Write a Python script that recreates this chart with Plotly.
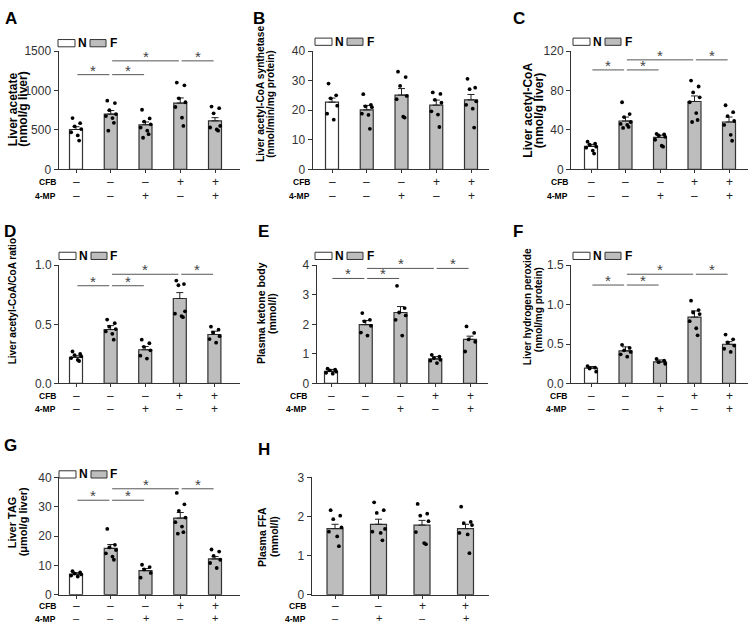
import plotly.graph_objects as go

W, H = 749, 632
FONT = "Liberation Sans, Arial, sans-serif"
GRAY = "#bdbdbd"
DARK = "#333333"

# ---------------- data ----------------
CFB_5 = ["–", "–", "–", "+", "+"]
MP_5 = ["–", "–", "+", "–", "+"]
DIET_5 = ["N", "F", "F", "F", "F"]
CFB_4 = ["–", "–", "+", "+"]
MP_4 = ["–", "+", "–", "+"]
DIET_4 = ["F", "F", "F", "F"]

acetate_mean = [505, 700, 565, 840, 615]
acetate_sem = [35, 45, 35, 65, 40]
acetate_pts = [[650, 585, 545, 510, 470, 430, 365],
               [870, 840, 750, 700, 675, 650, 590, 490],
               [755, 645, 605, 570, 530, 490, 445, 400],
               [1100, 1065, 900, 850, 790, 655, 550],
               [795, 775, 710, 550, 530, 505, 490]]

acs_mean = [22.7, 20.1, 25.1, 21.7, 23.5]
acs_sem = [1.4, 1.5, 2.2, 1.7, 1.8]
acs_pts = [[29, 25, 24, 21.5, 18.8, 16.8],
           [25.4, 21.8, 21.3, 21.0, 18.8, 18.4, 13.7],
           [33, 31.2, 28.2, 24.8, 23.7, 17.8, 17.5],
           [26, 25.5, 23.5, 22.5, 19.6, 18.5, 14.3],
           [30.6, 27.6, 27.1, 23, 21.8, 20.5, 14.1]]

acoa_mean = [23.3, 49, 32.3, 68.8, 48]
acoa_sem = [2.0, 4.0, 2.3, 5.6, 5.0]
acoa_pts = [[28, 26, 25, 23, 22, 19, 16],
            [68, 56, 53, 48, 46, 45, 43, 42],
            [36, 35.5, 34.5, 33, 30, 24, 23],
            [90, 84, 78, 73, 68, 57, 50, 48],
            [65, 58, 54, 49, 45, 35, 29]]

ratio_mean = [0.221, 0.456, 0.285, 0.718, 0.414]
ratio_sem = [0.014, 0.033, 0.027, 0.05, 0.028]
ratio_pts = [[0.27, 0.25, 0.24, 0.23, 0.215, 0.2, 0.19],
             [0.54, 0.51, 0.48, 0.46, 0.44, 0.42, 0.37],
             [0.37, 0.34, 0.31, 0.28, 0.235, 0.21],
             [0.87, 0.84, 0.83, 0.61, 0.59, 0.57, 0.56],
             [0.48, 0.455, 0.43, 0.40, 0.375, 0.345]]

ketone_mean = [0.41, 1.99, 2.40, 0.83, 1.49]
ketone_sem = [0.065, 0.14, 0.2, 0.076, 0.11]
ketone_pts = [[0.5, 0.47, 0.44, 0.4, 0.36, 0.33],
              [2.38, 2.15, 2.1, 1.95, 1.72, 1.62],
              [3.3, 2.55, 2.4, 2.3, 2.15, 1.62],
              [0.97, 0.91, 0.86, 0.8, 0.77, 0.69],
              [1.93, 1.71, 1.49, 1.41, 1.08]]

h2o2_mean = [0.195, 0.414, 0.273, 0.841, 0.497]
h2o2_sem = [0.02, 0.05, 0.025, 0.079, 0.033]
h2o2_pts = [[0.22, 0.2, 0.19, 0.15],
            [0.49, 0.45, 0.42, 0.40, 0.37, 0.34],
            [0.31, 0.29, 0.27, 0.25],
            [1.05, 0.93, 0.9, 0.88, 0.79, 0.7, 0.61],
            [0.62, 0.56, 0.52, 0.48, 0.44, 0.40]]

tag_mean = [7.0, 15.8, 8.2, 26.1, 12.2]
tag_sem = [0.5, 1.3, 0.7, 1.9, 0.8]
tag_pts = [[8, 7.6, 7.2, 6.9, 6.5, 6.2],
           [22.4, 17, 16.1, 15.2, 14.1, 13, 11.9],
           [10.2, 9.4, 8.6, 7.4, 5.8],
           [34.7, 30.8, 28.6, 26.3, 24.7, 23.2, 21.3, 20.8],
           [15.4, 14.7, 13.2, 11.9, 10.8, 9.1]]

ffa_mean = [1.69, 1.80, 1.78, 1.69]
ffa_sem = [0.11, 0.13, 0.12, 0.11]
ffa_pts = [[2.16, 2.02, 1.93, 1.72, 1.61, 1.49, 1.24],
           [2.36, 2.16, 2.09, 1.68, 1.61, 1.58, 1.39],
           [2.32, 2.07, 2.02, 1.88, 1.6, 1.32, 1.29],
           [2.25, 1.86, 1.83, 1.78, 1.58, 1.54, 1.06]]

# tick labels
ticks_A = [0, 500, 1000, 1500]
ticks_B = [0, 10, 20, 30, 40]
ticks_C = [0, 40, 80, 120]
ticks_D = [0, 0.5, 1.0]
ticks_E = [0, 1, 2, 3, 4]
ticks_F = [0, 0.5, 1.0, 1.5]
ticks_G = [0, 10, 20, 30, 40]
ticks_H = [0, 1, 2, 3]

# significance brackets: (from, to, level) ; level 0 = low, 1 = high
SIG_5 = [(0, 1, 0), (1, 2, 0), (1, 3, 1), (3, 4, 1)]

# ---------------- layout spec (pixels of the picture) ----------------
panels = [
    dict(letter="A", mean=acetate_mean, sem=acetate_sem, pts=acetate_pts, ticks=ticks_A,
         ticktext=None, cfb=CFB_5, mp=MP_5, diet=DIET_5,
         L=58.5, R=240, c0=76, s=34.75, bw=13, yb=166, yt=45, lx=3, ly=12,
         titles=[(12.5, 105, "Liver acetate"), (23, 105, "(nmol/g liver)")], tf=12,
         leg=(58, 37), rowx=58, rows=(179, 193), sig=SIG_5, brk=(1200, 1375)),
    dict(letter="B", mean=acs_mean, sem=acs_sem, pts=acs_pts, ticks=ticks_B,
         ticktext=None, cfb=CFB_5, mp=MP_5, diet=DIET_5,
         L=312.5, R=489, c0=332, s=34.75, bw=13, yb=166, yt=45, lx=251, ly=12,
         titles=[(260, 89, "Liver acetyl-CoA synthetase"), (271, 99, "(nmol/min/mg protein)")], tf=10.2,
         leg=(315, 35.5), rowx=312, rows=(179, 193), sig=[], brk=None),
    dict(letter="C", mean=acoa_mean, sem=acoa_sem, pts=acoa_pts, ticks=ticks_C,
         ticktext=None, cfb=CFB_5, mp=MP_5, diet=DIET_5,
         L=571, R=748, c0=591, s=34.5, bw=13, yb=166, yt=45, lx=511, ly=12,
         titles=[(528, 106, "Liver acetyl-CoA"), (538.5, 106, "(nmol/g liver)")], tf=12,
         leg=(573, 35.5), rowx=570, rows=(179, 193), sig=SIG_5, brk=(100.8, 111)),
    dict(letter="D", mean=ratio_mean, sem=ratio_sem, pts=ratio_pts, ticks=ticks_D,
         ticktext=["0.0", "0.5", "1.0"], cfb=CFB_5, mp=MP_5, diet=DIET_5,
         L=59, R=240, c0=76, s=34.6, bw=13, yb=385, yt=264, lx=2, ly=230,
         titles=[(12, 301, "Liver acetyl-CoA/CoA ratio")], tf=10,
         leg=(59, 254.5), rowx=58, rows=(398, 411), sig=SIG_5, brk=(0.826, 0.923)),
    dict(letter="E", mean=ketone_mean, sem=ketone_sem, pts=ketone_pts, ticks=ticks_E,
         ticktext=None, cfb=CFB_5, mp=MP_5, diet=DIET_5,
         L=316.7, R=488, c0=331, s=34.75, bw=13, yb=385, yt=264, lx=256, ly=229.5,
         titles=[(261, 313, "Plasma ketone body"), (272, 314, "(mmol/l)")], tf=10.5,
         leg=(315, 254.5), rowx=309, rows=(398, 411), sig=SIG_5, brk=(3.55, 3.89)),
    dict(letter="F", mean=h2o2_mean, sem=h2o2_sem, pts=h2o2_pts, ticks=ticks_F,
         ticktext=["0.0", "0.5", "1.0", "1.5"], cfb=CFB_5, mp=MP_5, diet=DIET_5,
         L=571, R=748, c0=591, s=34.5, bw=13, yb=385, yt=264, lx=511, ly=229.5,
         titles=[(527, 307, "Liver hydrogen peroxide"), (538, 310, "(nmol/mg protein)")], tf=10,
         leg=(573, 254.5), rowx=569, rows=(398, 411), sig=SIG_5, brk=(1.248, 1.385)),
    dict(letter="G", mean=tag_mean, sem=tag_sem, pts=tag_pts, ticks=ticks_G,
         ticktext=None, cfb=CFB_5, mp=MP_5, diet=DIET_5,
         L=59, R=240, c0=76, s=34.75, bw=13, yb=601, yt=481, lx=2, ly=448,
         titles=[(12, 527, "Liver TAG"), (23, 527, "(μmol/g liver)")], tf=11,
         leg=(59, 478), rowx=58, rows=(613, 626), sig=SIG_5, brk=(32.2, 36.1)),
    dict(letter="H", mean=ffa_mean, sem=ffa_sem, pts=ffa_pts, ticks=ticks_H,
         ticktext=None, cfb=CFB_4, mp=MP_4, diet=DIET_4,
         L=311.7, R=489, c0=335, s=43.5, bw=16, yb=601, yt=481, lx=256, ly=452.5,
         titles=[(262, 542, "Plasma FFA"), (274, 542, "(mmol/l)")], tf=10.5,
         leg=None, rowx=308, rows=(613, 626), sig=[], brk=None),
]

JITTER = [-0.10, 0.12, -0.04, 0.15, -0.14, 0.05, 0.09, -0.07]


def px(x):
    return x / W


def py(y):
    return 1 - y / H


fig = go.Figure()
annotations = []
shapes = []
layout_axes = {}

for k, p in enumerate(panels):
    n = k + 1
    xa = "x" if n == 1 else f"x{n}"
    ya = "y" if n == 1 else f"y{n}"
    xkey = "xaxis" if n == 1 else f"xaxis{n}"
    ykey = "yaxis" if n == 1 else f"yaxis{n}"
    cats = list(range(len(p["mean"])))
    ymax = p["ticks"][-1]

    fills = ["white" if d == "N" else GRAY for d in p["diet"]]
    fig.add_trace(go.Bar(
        x=cats, y=p["mean"], width=p["bw"] / p["s"], xaxis=xa, yaxis=ya,
        marker=dict(color=fills, line=dict(color=DARK, width=1.2)),
        error_y=dict(type="data", symmetric=False, array=p["sem"],
                     arrayminus=[0] * len(cats), color="#222222", thickness=1, width=3.5),
        showlegend=False, hoverinfo="skip"))

    xs, ys = [], []
    for i, grp in enumerate(p["pts"]):
        for j, v in enumerate(grp):
            xs.append(i + JITTER[j % len(JITTER)])
            ys.append(v)
    fig.add_trace(go.Scatter(
        x=xs, y=ys, mode="markers", xaxis=xa, yaxis=ya,
        marker=dict(color="black", size=3.8), showlegend=False, hoverinfo="skip"))

    layout_axes[xkey] = dict(
        domain=[px(p["L"]), min(1, px(p["R"]))], anchor=ya,
        range=[(p["L"] - p["c0"]) / p["s"], (p["R"] - p["c0"]) / p["s"]],
        showgrid=False, zeroline=False, showline=True, linecolor=DARK, linewidth=1,
        ticks="outside", ticklen=3, tickcolor=DARK, tickvals=cats, showticklabels=False,
        fixedrange=True)
    layout_axes[ykey] = dict(
        domain=[py(p["yb"]), py(p["yt"])], anchor=xa, range=[0, ymax],
        showgrid=False, zeroline=False, showline=True, linecolor=DARK, linewidth=1,
        ticks="outside", ticklen=4, tickcolor=DARK, tickvals=p["ticks"],
        ticktext=p["ticktext"] if p["ticktext"] else [str(t) for t in p["ticks"]],
        tickfont=dict(size=12, color=DARK, family=FONT), fixedrange=True)

    # panel letter
    annotations.append(dict(text=f"<b>{p['letter']}</b>", x=px(p["lx"]), y=py(p["ly"]),
                            xref="paper", yref="paper", xanchor="left", yanchor="middle",
                            showarrow=False, font=dict(size=17, color="black", family=FONT)))
    # y titles
    for (tx, ty, t) in p["titles"]:
        annotations.append(dict(text=f"<b>{t}</b>", x=px(tx), y=py(ty), xref="paper", yref="paper",
                                xanchor="center", yanchor="middle", textangle=-90, showarrow=False,
                                font=dict(size=p["tf"], color="black", family=FONT)))
    # legend
    if p["leg"]:
        lx0, ly0 = p["leg"]
        for (a, b, col) in [(0, 17, "white"), (32, 48, GRAY)]:
            shapes.append(dict(type="rect", xref="paper", yref="paper",
                               x0=px(lx0 + a), x1=px(lx0 + b), y0=py(ly0 + 3.7), y1=py(ly0 - 3.7),
                               line=dict(color=DARK, width=1), fillcolor=col))
        for (a, t) in [(17.5, "N"), (49.5, "F")]:
            annotations.append(dict(text=f"<b>{t}</b>", x=px(lx0 + a), y=py(ly0), xref="paper",
                                    yref="paper", xanchor="left", yanchor="middle", showarrow=False,
                                    font=dict(size=12, color="black", family=FONT)))
    # row labels
    for (lab, ry, vals) in [("CFB", p["rows"][0], p["cfb"]), ("4-MP", p["rows"][1], p["mp"])]:
        annotations.append(dict(text=f"<b>{lab}</b>", x=px(p["rowx"]), y=py(ry), xref="paper",
                                yref="paper", xanchor="right", yanchor="middle", showarrow=False,
                                font=dict(size=8.5, color="black", family=FONT)))
        near_bottom = ry + 8 > H
        for i, v in enumerate(vals):
            annotations.append(dict(text=v, x=i, y=py(ry - 0.8 if near_bottom else ry), xref=xa,
                                    yref="paper", xanchor="center", yanchor="middle",
                                    showarrow=False,
                                    font=dict(size=11 if near_bottom else 12, color="#222222",
                                              family=FONT)))
    # significance brackets
    for (a, b, lev) in p["sig"]:
        yv = p["brk"][lev]
        x0 = a + 0.04
        x1 = b - 0.04
        shapes.append(dict(type="line", xref=xa, yref=ya, x0=x0, x1=x1, y0=yv, y1=yv,
                           line=dict(color="#555555", width=1)))
        annotations.append(dict(text="*", x=(a + b) / 2, y=yv, xref=xa, yref=ya,
                                xanchor="center", yanchor="bottom", yshift=-6, showarrow=False,
                                font=dict(size=15, color="#444444", family=FONT)))

fig.update_layout(
    width=W, height=H, margin=dict(l=0, r=0, t=0, b=0),
    paper_bgcolor="white", plot_bgcolor="white",
    font=dict(family=FONT, color=DARK),
    annotations=annotations, shapes=shapes, bargap=0, hovermode=False, **layout_axes)

# remove the browser's default 8px page margin so the figure sits at the window's corner
fig.write_html("out.html",
               config={"displayModeBar": False, "staticPlot": True},
               post_script="document.body.style.margin='0';document.body.style.overflow='hidden';")
